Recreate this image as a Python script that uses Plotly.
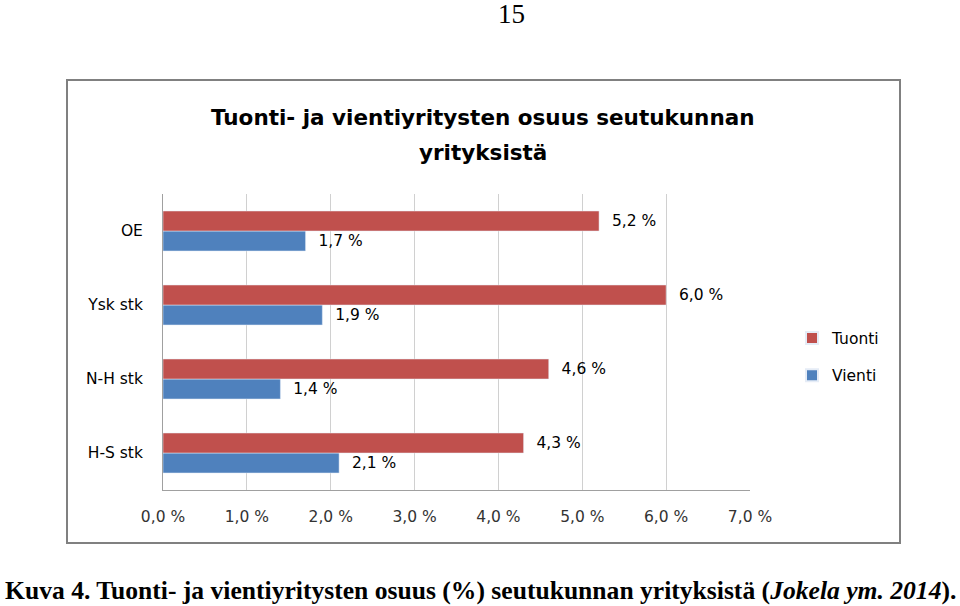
import plotly.graph_objects as go

categories = ["H-S stk", "N-H stk", "Ysk stk", "OE"]
tuonti = [4.3, 4.6, 6.0, 5.2]
vienti = [2.1, 1.4, 1.9, 1.7]
tick_vals = [0, 1, 2, 3, 4, 5, 6, 7]
tick_text = ["0,0 %", "1,0 %", "2,0 %", "3,0 %", "4,0 %", "5,0 %", "6,0 %", "7,0 %"]
title_lines = ["Tuonti- ja vientiyritysten osuus seutukunnan", "yrityksistä"]

RED = "#C0504D"
BLUE = "#4F81BD"
FONT = "DejaVu Sans"
FS = 15.5


def fmt(v):
    return "  " + f"{v:.1f}".replace(".", ",") + " %"


fig = go.Figure()
fig.add_trace(go.Bar(
    y=categories, x=vienti, orientation="h", name="Vienti", legendgroup="v",
    legendrank=2,
    marker_color=BLUE, text=[fmt(v) for v in vienti], textposition="outside",
    constraintext="none",
    textfont=dict(family=FONT, size=FS, color="#000"), cliponaxis=False,
))
fig.add_trace(go.Bar(
    y=categories, x=tuonti, orientation="h", name="Tuonti", legendgroup="t",
    legendrank=1,
    marker_color=RED, text=[fmt(v) for v in tuonti], textposition="outside",
    constraintext="none",
    textfont=dict(family=FONT, size=FS, color="#000"), cliponaxis=False,
))

W, H = 960, 606
L, R, T, B = 163, 750, 194, 490


def px(xp):
    return (xp - L) / (R - L)


def py(yp):
    return (B - yp) / (B - T)


fig.update_layout(
    width=W, height=H,
    margin=dict(l=L, r=W - R, t=T, b=H - B),
    paper_bgcolor="white", plot_bgcolor="white",
    barmode="group", bargap=0.46, bargroupgap=0,
    font=dict(family=FONT, size=FS, color="#000"),
    xaxis=dict(
        range=[0, 7], tickvals=tick_vals, ticktext=tick_text,
        showgrid=True, gridcolor="#D0D0D0", gridwidth=1,
        zeroline=False, showline=True, linecolor="#A0A0A0", linewidth=1,
        ticks="outside", ticklen=12, tickcolor="rgba(0,0,0,0)",
        tickfont=dict(family=FONT, size=FS, color="#333"),
        fixedrange=True,
    ),
    yaxis=dict(
        showgrid=False, zeroline=False, showline=True, linecolor="#A0A0A0",
        linewidth=1, ticks="outside", ticklen=16, tickcolor="rgba(0,0,0,0)",
        tickfont=dict(family=FONT, size=FS, color="#000"),
    ),
    legend=dict(
        x=px(792), y=py(357), xanchor="left", yanchor="middle",
        traceorder="grouped", font=dict(family=FONT, size=FS, color="#000"),
        itemsizing="constant", tracegroupgap=14, itemwidth=30,
        bgcolor="rgba(0,0,0,0)",
    ),
    showlegend=True,
)

# title (two lines)
for line, yy in zip(title_lines, [117, 153]):
    fig.add_annotation(text="<b>" + line + "</b>", xref="paper", yref="paper",
                       x=px(483), y=py(yy), xanchor="center", yanchor="middle",
                       showarrow=False,
                       font=dict(family=FONT, size=21.5, color="#000"))

# chart border box
fig.add_shape(type="rect", xref="paper", yref="paper",
              x0=px(67), x1=px(900), y0=py(543), y1=py(80),
              line=dict(color="#808080", width=2), fillcolor="rgba(0,0,0,0)")

# page number
fig.add_annotation(text="15", xref="paper", yref="paper",
                   x=px(511), y=py(14), xanchor="center", yanchor="middle",
                   showarrow=False,
                   font=dict(family="Liberation Serif", size=27, color="#000"))

# caption
fig.add_annotation(
    text="<b>Kuva 4. Tuonti- ja vientiyritysten osuus (%) seutukunnan yrityksistä (<i>Jokela ym. 2014</i>).</b>",
    xref="paper", yref="paper", x=px(480), y=py(590), xanchor="center",
    yanchor="middle", showarrow=False,
    font=dict(family="Liberation Serif", size=25.6, color="#000"))

fig.write_html("out.html", config={"displayModeBar": False},
               post_script="document.body.style.margin='0';")
